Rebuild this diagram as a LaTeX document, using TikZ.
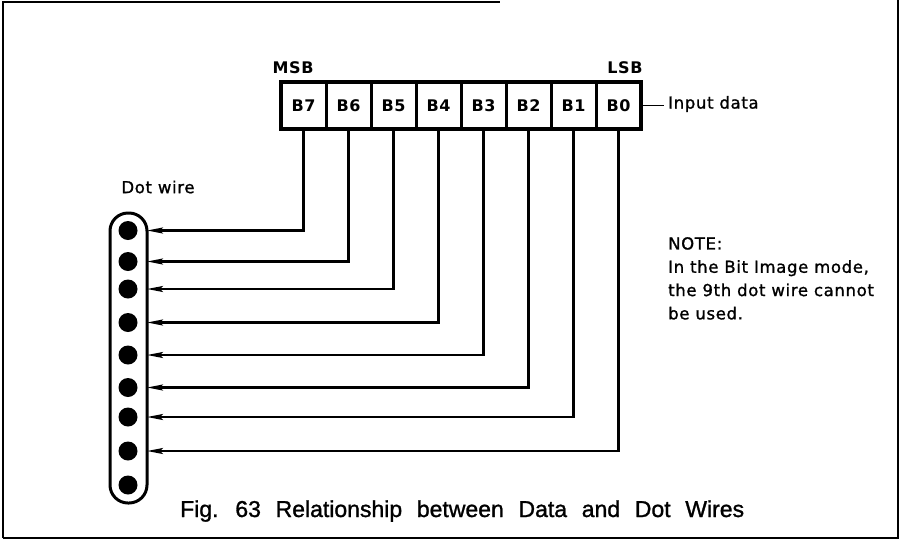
\documentclass[tikz,border=0pt]{standalone}
\usepackage{fontspec}
\setmainfont{DejaVu Sans}
\newfontfamily\labfont{DejaVu Sans}[LetterSpace=4,FakeBold=1.2]
\newfontfamily\boldlab{DejaVu Sans Bold}[LetterSpace=4]
\newfontfamily\capfont{Liberation Sans}[WordSpace=2.3,FakeBold=1.2]
\usetikzlibrary{arrows.meta}
\begin{document}
\begin{tikzpicture}[x=1pt,y=-1pt,
  cell/.style={draw, line width=3pt, minimum width=45pt, minimum height=47pt,
    inner sep=0pt, font=\boldlab\fontsize{16}{18}\selectfont},
  dotw/.style={circle, fill=black, minimum size=19pt, inner sep=0pt},
  wire/.style={line width=2.2pt, -{Stealth[length=16pt,width=6pt,inset=3pt]}},
  lbl/.style={inner sep=0pt, font=\labfont\fontsize{16.5}{23.3}\selectfont},
  blbl/.style={inner sep=0pt, font=\boldlab\fontsize{16}{18}\selectfont},
  frame/.style={line width=1.6pt}]
\useasboundingbox (0,0) rectangle (902,542);
% page frame (as scanned)
\draw[frame] (3,538) -- (3,2) -- (500,2);
\draw[frame] (898,0) -- (898,538) -- (3,538);
% register cells
\foreach \n/\i in {7/0,6/1,5/2,4/3,3/4,2/5,1/6,0/7}{
  \node[cell] (b\n) at ({303.5+45*\i},105.5) {B\n};
}
\draw[line width=3.2pt] (281,82) rectangle (641,129);
\node[blbl] (msb) at (293,68) {MSB};
\node[blbl] (lsb) at (625,68) {LSB};
\coordinate (inend) at (664,105.5);
\draw[line width=1.8pt] (b0.east) -- (inend);
\node[lbl, anchor=west] (input) at (668,104) {Input data};
% dot wire capsule
\node[draw, line width=3pt, rounded corners=18pt, minimum width=37pt,
  minimum height=290pt, inner sep=0pt] (cap) at (128.5,358) {};
\node[lbl] (dwlabel) at (158,187) {Dot wire};
\foreach \k/\yy in {1/230.5,2/261.5,3/289,4/322.5,5/355,6/387.5,7/417,8/451,9/485}{
  \node[dotw] (d\k) at (128,\yy) {};
  \coordinate (a\k) at (147,\yy);
}
% wires
\draw[wire] (b7.south) |- (a1);
\draw[wire] (b6.south) |- (a2);
\draw[wire] (b5.south) |- (a3);
\draw[wire] (b4.south) |- (a4);
\draw[wire] (b3.south) |- (a5);
\draw[wire] (b2.south) |- (a6);
\draw[wire] (b1.south) |- (a7);
\draw[wire] (b0.south) |- (a8);
% note
\node[lbl, anchor=north west, align=left] (note) at (668,237)
  {NOTE:\\In the Bit Image mode,\\the 9th dot wire cannot\\be used.};
% caption
\node[inner sep=0pt, anchor=base west, font=\capfont\fontsize{23}{26}\selectfont]
  (caption) at (180,517) {Fig. 63 Relationship between Data and Dot Wires};
\end{tikzpicture}
\end{document}
